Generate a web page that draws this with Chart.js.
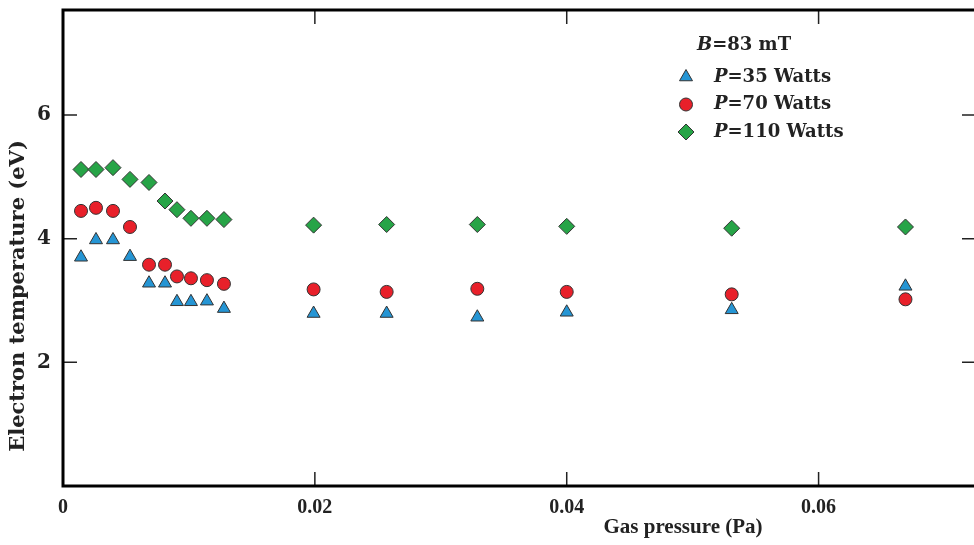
<!DOCTYPE html>
<html>
<head>
<meta charset="utf-8">
<script src="https://cdn.jsdelivr.net/npm/chart.js@4.4.0/dist/chart.umd.min.js"></script>
<style>
    html, body { margin: 0; padding: 0; background: #fff; overflow: hidden; }
    #wrap { width: 990px; height: 545px; }
</style>
</head>
<body>
<div id="wrap"><canvas id="chart" width="990" height="545"></canvas></div>
<script>
"use strict";
// gas pressure (Pa)
const pressure = [0.00143, 0.00262, 0.00397, 0.00532, 0.00683, 0.0081, 0.00905, 0.01016, 0.01143, 0.01278,
                  0.0199, 0.0257, 0.0329, 0.04, 0.0531, 0.0669];
// electron temperature (eV) for each power
const te35  = [3.70, 3.98, 3.98, 3.71, 3.28, 3.28, 2.98, 2.98, 2.99, 2.87, 2.79, 2.79, 2.73, 2.81, 2.85, 3.23];
const te70  = [4.45, 4.50, 4.45, 4.19, 3.58, 3.58, 3.39, 3.36, 3.33, 3.27, 3.18, 3.14, 3.19, 3.14, 3.10, 3.02];
const te110 = [5.12, 5.12, 5.15, 4.96, 4.91, 4.61, 4.47, 4.33, 4.33, 4.31, 4.22, 4.23, 4.23, 4.20, 4.17, 4.19];
const xTicks = [0, 0.02, 0.04, 0.06];
const yTicks = [2, 4, 6];
const headerLabel = ['B', '=83 mT'];
const seriesLabels = ['=35 Watts', '=70 Watts', '=110 Watts'];

const FONT = '"Liberation Serif", serif';
const WIDE = '"DejaVu Serif", serif';
const colors = ['#2595d4', '#e8202a', '#27a447'];
const styles = ['triangle', 'circle', 'rectRot'];
const radii = [7.5, 6.5, 8];

function toPoints(ys) {
    return ys.map((y, i) => ({ x: pressure[i], y: y }));
}

function drawMarker(ctx, style, x, y, r) {
    ctx.beginPath();
    if (style === 'triangle') {
        ctx.moveTo(x, y - r);
        ctx.lineTo(x + r * 0.866, y + r * 0.5);
        ctx.lineTo(x - r * 0.866, y + r * 0.5);
        ctx.closePath();
    } else if (style === 'circle') {
        ctx.arc(x, y, r, 0, Math.PI * 2);
    } else {
        ctx.moveTo(x, y - r);
        ctx.lineTo(x + r, y);
        ctx.lineTo(x, y + r);
        ctx.lineTo(x - r, y);
        ctx.closePath();
    }
    ctx.fill();
    ctx.stroke();
}

// frame, inward ticks, axis titles and legend
const framePlugin = {
    id: 'frame',
    afterDraw(chart) {
        const ctx = chart.ctx;
        const a = chart.chartArea;
        const xs = chart.scales.x, ys = chart.scales.y;
        ctx.save();
        ctx.strokeStyle = '#222';
        ctx.lineWidth = 1.5;
        xTicks.forEach(v => {
            const px = xs.getPixelForValue(v);
            ctx.beginPath();
            ctx.moveTo(px, a.bottom); ctx.lineTo(px, a.bottom - 14);
            ctx.moveTo(px, a.top); ctx.lineTo(px, a.top + 14);
            ctx.stroke();
        });
        yTicks.forEach(v => {
            const py = ys.getPixelForValue(v);
            ctx.beginPath();
            ctx.moveTo(a.left, py); ctx.lineTo(a.left + 14, py);
            ctx.moveTo(a.right, py); ctx.lineTo(a.right - 14, py);
            ctx.stroke();
        });
        ctx.strokeStyle = '#000';
        ctx.lineWidth = 3;
        ctx.strokeRect(a.left, a.top, a.right - a.left, a.bottom - a.top);

        // x axis title, sits right of centre in the original
        ctx.fillStyle = '#222';
        ctx.font = 'bold 21px ' + FONT;
        ctx.textAlign = 'center';
        ctx.textBaseline = 'middle';
        ctx.fillText('Gas pressure (Pa)', a.left + 620, 528);

        // y axis title, sits below centre in the original
        ctx.save();
        ctx.translate(19, 296);
        ctx.rotate(-Math.PI / 2);
        ctx.font = 'bold 21px ' + WIDE;
        ctx.fillText('Electron temperature (eV)', 0, 0);
        ctx.restore();

        // legend
        ctx.textAlign = 'left';
        let lx = 697, ly = 45;
        ctx.font = 'italic bold 18px ' + WIDE;
        ctx.fillText(headerLabel[0], lx, ly);
        let w = ctx.measureText(headerLabel[0]).width;
        ctx.font = 'bold 18px ' + WIDE;
        ctx.fillText(headerLabel[1], lx + w, ly);
        seriesLabels.forEach((lab, i) => {
            const y = 77 + i * 27.5;
            ctx.fillStyle = colors[i];
            ctx.strokeStyle = '#333';
            ctx.lineWidth = 1;
            drawMarker(ctx, styles[i], 686, y, radii[i]);
            ctx.fillStyle = '#222';
            ctx.font = 'italic bold 18px ' + WIDE;
            ctx.fillText('P', 714, y);
            const pw = ctx.measureText('P').width;
            ctx.font = 'bold 18px ' + WIDE;
            ctx.fillText(lab, 714 + pw, y);
        });
        ctx.restore();
    }
};

const ctx = document.getElementById('chart').getContext('2d');
new Chart(ctx, {
    type: 'scatter',
    data: {
        datasets: [te35, te70, te110].map((d, i) => ({
            label: 'P' + seriesLabels[i],
            data: toPoints(d),
            pointStyle: styles[i],
            pointRadius: radii[i],
            backgroundColor: colors[i],
            borderColor: '#333',
            borderWidth: 1
        }))
    },
    options: {
        responsive: false,
        animation: false,
        events: [],
        layout: { padding: { top: 10, right: 14, left: 0, bottom: 0 } },
        plugins: {
            legend: { display: false },
            tooltip: { enabled: false }
        },
        scales: {
            x: {
                type: 'linear',
                min: 0,
                max: 0.0725,
                afterFit: s => { s.height = 59; s.paddingLeft = 0; s.paddingRight = 0; },
                afterBuildTicks: s => { s.ticks = xTicks.map(v => ({ value: v })); },
                grid: { display: false },
                border: { display: false },
                ticks: {
                    padding: 2,
                    color: '#222',
                    font: { family: FONT, size: 20, weight: 'bold' },
                    callback: v => String(v)
                }
            },
            y: {
                min: 0,
                max: 7.7,
                afterFit: s => { s.width = 63; s.paddingTop = 0; s.paddingBottom = 0; },
                afterBuildTicks: s => { s.ticks = yTicks.map(v => ({ value: v })); },
                grid: { display: false },
                border: { display: false },
                ticks: {
                    padding: 4,
                    color: '#222',
                    font: { family: WIDE, size: 20, weight: 'bold' }
                }
            }
        }
    },
    plugins: [framePlugin]
});
</script>
</body>
</html>
